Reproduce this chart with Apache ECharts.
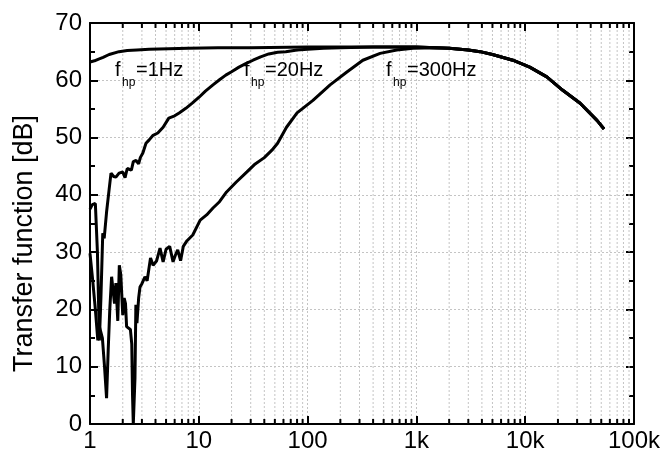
<!DOCTYPE html>
<html>
<head>
<meta charset="utf-8">
<script src="https://cdn.jsdelivr.net/npm/echarts@6/dist/echarts.min.js"></script>
<style>
  html, body { margin: 0; padding: 0; background: #fff; }
  #box1 { width: 665px; height: 455px; }
</style>
</head>
<body>
<div id="box1"></div>
<script>
// common roll-off at high frequency
var tailF = [2000, 3000, 3850, 5000, 7700, 11000, 15800, 22000, 32000, 45700, 53000];
var tailDb = [65.6, 65.3, 65.0, 64.5, 63.5, 62.3, 60.6, 58.3, 56.0, 53.0, 51.5];

// fhp = 1Hz
var f1 = [1, 1.1, 1.2, 1.32, 1.5, 1.85, 2.2, 2.7, 3.5, 5.3, 8, 15, 30, 100, 300, 1000, 1500];
var db1 = [63.2, 63.4, 63.7, 64.0, 64.5, 65.0, 65.2, 65.3, 65.4, 65.5, 65.6, 65.7, 65.7, 65.8, 65.8, 65.8, 65.7];

// fhp = 20Hz
var f2 = [1, 1.05, 1.12, 1.17, 1.22, 1.26, 1.31, 1.35, 1.42, 1.5, 1.56, 1.65, 1.73, 1.85, 2.0, 2.1, 2.2, 2.28, 2.4, 2.5,
    2.65, 2.8, 2.9, 3.06, 3.27, 3.5, 3.8, 4.2, 4.7, 5.3, 6, 6.6, 7.6, 8.7, 10, 11.5, 13.5, 15.5, 17.7, 20,
    23.4, 27, 31.5, 37, 44, 53, 63, 80, 100, 140, 200, 400, 1000, 1500];
var db2 = [37.5, 38.3, 38.5, 30, 14.6, 22, 33.3, 32.4, 37, 41, 43.8, 43.2, 43.1, 43.8, 44, 43, 44.6, 44.9, 44.3, 45.8,
    46, 45.4, 46.5, 47.3, 49, 49.6, 50.4, 50.8, 51.8, 53.4, 53.8, 54.3, 55.1, 56, 57, 58.1, 59.2, 60.1, 60.9, 61.5,
    62.3, 62.9, 63.5, 64.1, 64.6, 64.9, 65, 65.3, 65.4, 65.6, 65.7, 65.8, 65.8, 65.7];

// fhp = 300Hz
var f3 = [1, 1.06, 1.12, 1.18, 1.22, 1.26, 1.3, 1.36, 1.42, 1.47, 1.52, 1.58, 1.63, 1.68, 1.73, 1.8, 1.86, 1.92, 2.0, 2.06,
    2.12, 2.17, 2.25, 2.35, 2.42, 2.46, 2.5, 2.55, 2.59, 2.64, 2.7, 2.8, 2.88, 3.0, 3.2, 3.35, 3.6, 3.8, 4.1, 4.4,
    4.7, 5.0, 5.4, 5.8, 6.1, 6.4, 6.8, 7.2, 7.8, 8.8, 10.3, 11.8, 13.5, 15.5, 18, 22, 27.7, 33, 40, 47,
    53, 64, 80, 112, 161, 228, 322, 464, 660, 930, 1500];
var db3 = [29.8, 25, 20, 14.6, 17, 16, 15, 10, 4.5, 12.9, 20, 25.7, 26, 21, 24.6, 18, 27.7, 26, 19, 22,
    21, 17, 17, 16.5, 14, 5, 0, 0, 8, 20.8, 17.6, 22, 23.9, 24.5, 25.7, 25, 29, 27.7, 28.5, 30.7,
    28.3, 30.5, 31, 28.3, 29.5, 30.4, 28.5, 31, 32, 33, 35.6, 36.5, 37.7, 38.8, 40.5, 42.2, 44, 45.4, 46.5, 47.8,
    49, 51.8, 54.3, 56.5, 59.2, 61.4, 63.5, 64.7, 65.3, 65.6, 65.7];

// minor log ticks 2..9 per decade
var minorTicks = [2, 3, 4, 5, 6, 7, 8, 9, 20, 30, 40, 50, 60, 70, 80, 90,
    200, 300, 400, 500, 600, 700, 800, 900, 2000, 3000, 4000, 5000, 6000, 7000, 8000, 9000,
    20000, 30000, 40000, 50000, 60000, 70000, 80000, 90000];
var xTickLabels = { 1: '1', 10: '10', 100: '100', 1000: '1k', 10000: '10k', 100000: '100k' };

function zip(f, d) {
    var out = [];
    for (var i = 0; i < f.length; i++) out.push([f[i], d[i]]);
    for (var j = 0; j < tailF.length; j++) out.push([tailF[j], tailDb[j]]);
    return out;
}

var myChart = echarts.init(document.getElementById('box1'));
var font = 'Liberation Sans';

function renderMinor(params, api) {
    var v = api.value(0);
    var b = api.coord([v, 0]);
    var t = api.coord([v, 70]);
    return {
        type: 'group',
        children: [
            { type: 'line', shape: { x1: b[0], y1: b[1], x2: t[0], y2: t[1] },
              style: { stroke: '#c4c4c4', lineWidth: 1, lineDash: [2, 2] } },
            { type: 'line', shape: { x1: b[0], y1: b[1], x2: b[0], y2: b[1] - 5 },
              style: { stroke: '#000', lineWidth: 2 } },
            { type: 'line', shape: { x1: t[0], y1: t[1], x2: t[0], y2: t[1] + 5 },
              style: { stroke: '#000', lineWidth: 2 } }
        ]
    };
}

function lineSeries(data) {
    return {
        type: 'line',
        data: data,
        showSymbol: false,
        smooth: false,
        lineStyle: { color: '#000', width: 3 },
        z: 5,
        silent: true
    };
}

function label(x, main) {
    return [
        { type: 'text', x: x, y: 70.5, z: 10,
          style: { text: 'f', fontSize: 20, fontFamily: font, fill: '#000', verticalAlign: 'middle' } },
        { type: 'text', x: x + 7, y: 82.5, z: 10,
          style: { text: 'hp', fontSize: 12, fontFamily: font, fill: '#000', verticalAlign: 'middle' } },
        { type: 'text', x: x + 21, y: 70.5, z: 10,
          style: { text: main, fontSize: 20, fontFamily: font, fill: '#000', verticalAlign: 'middle' } }
    ];
}

var axisLine = { show: true, onZero: false, lineStyle: { color: '#000', width: 2 } };

var option = {
    animation: false,
    backgroundColor: '#fff',
    grid: { left: 90, right: 31, top: 23, bottom: 31, containLabel: false },
    xAxis: [{
        type: 'log',
        min: 1,
        max: 100000,
        logBase: 10,
        axisLine: axisLine,
        axisTick: { inside: true, length: 8, lineStyle: { color: '#000', width: 2 } },
        axisLabel: { color: '#000', fontSize: 24, fontFamily: font, margin: 5,
            formatter: function (v) { return xTickLabels[Math.round(v)] || ''; } },
        splitLine: { show: true, lineStyle: { color: '#c4c4c4', width: 1, type: [2, 2] } }
    }, {
        type: 'log',
        position: 'top',
        min: 1,
        max: 100000,
        logBase: 10,
        axisLine: axisLine,
        axisTick: { inside: true, length: 8, lineStyle: { color: '#000', width: 2 } },
        axisLabel: { show: false },
        splitLine: { show: false }
    }],
    yAxis: [{
        type: 'value',
        min: 0,
        max: 70,
        interval: 10,
        name: 'Transfer function [dB]',
        nameLocation: 'middle',
        nameGap: 52,
        nameTextStyle: { color: '#000', fontSize: 27, fontFamily: font, padding: [0, 40, 0, 0] },
        axisLine: axisLine,
        axisTick: { inside: true, length: 8, lineStyle: { color: '#000', width: 2 } },
        minorTick: { show: true, splitNumber: 2, length: 5, lineStyle: { color: '#000', width: 2 } },
        axisLabel: { color: '#000', fontSize: 24, fontFamily: font, margin: 8 },
        splitLine: { show: true, lineStyle: { color: '#c4c4c4', width: 1, type: [2, 2] } }
    }, {
        type: 'value',
        position: 'right',
        min: 0,
        max: 70,
        interval: 10,
        axisLine: axisLine,
        axisTick: { inside: true, length: 8, lineStyle: { color: '#000', width: 2 } },
        minorTick: { show: true, splitNumber: 2, length: 5, lineStyle: { color: '#000', width: 2 } },
        axisLabel: { show: false },
        splitLine: { show: false }
    }],
    series: [{
        type: 'custom',
        renderItem: renderMinor,
        data: minorTicks.map(function (v) { return [v, 0]; }),
        xAxisIndex: 0,
        yAxisIndex: 0,
        clip: false,
        silent: true,
        z: 1
    },
        lineSeries(zip(f1, db1)),
        lineSeries(zip(f2, db2)),
        lineSeries(zip(f3, db3))
    ],
    graphic: [].concat(label(115, '=1Hz'), label(244, '=20Hz'), label(386, '=300Hz'))
};

myChart.setOption(option);
window.addEventListener('resize', function () {
    myChart.resize();
});
</script>
</body>
</html>
